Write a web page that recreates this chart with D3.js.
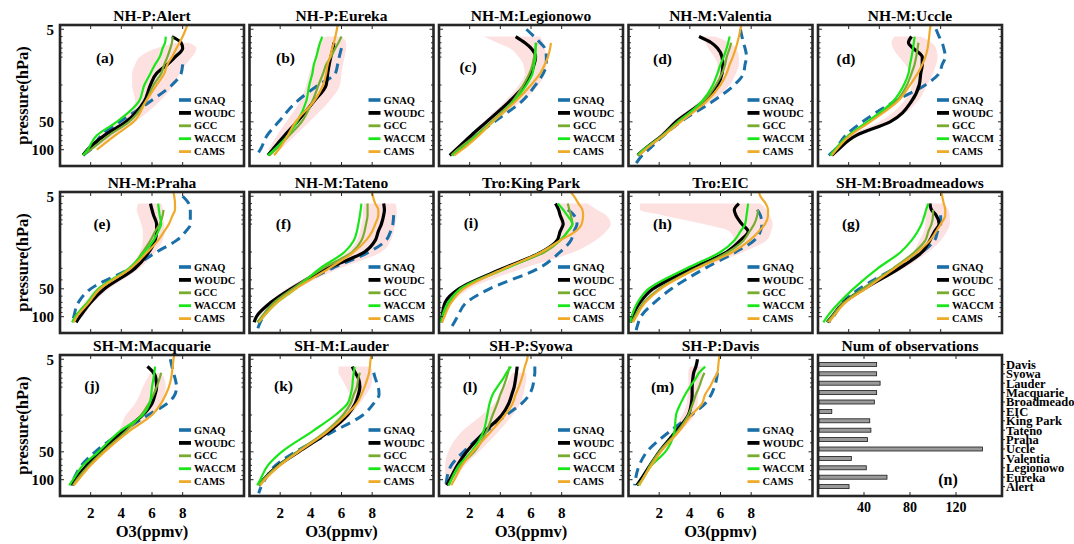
<!DOCTYPE html>
<html>
<head>
<meta charset="utf-8" />
<style>
*{margin:0;padding:0;}
body{background:#fff;}
svg text{font-family:"Liberation Serif","DejaVu Serif","Times New Roman",serif;font-weight:bold;}
</style>
</head>
<body>
<script src="https://cdn.jsdelivr.net/npm/d3@7"></script>
<script>
// pressure levels (hPa) shared by all profiles
var levels = [4.5, 5, 6, 7, 8, 10, 12, 15, 20, 30, 50, 70, 100, 115, 140];

var stations = ["Alert","Eureka","Legionowo","Valentia","Uccle","Praha","Tateno","King Park","EIC","Broadmeadows","Macquarie","Lauder","Syowa","Davis"];
var titles = ["NH-P:Alert","NH-P:Eureka","NH-M:Legionowo","NH-M:Valentia","NH-M:Uccle","NH-M:Praha","NH-M:Tateno","Tro:King Park","Tro:EIC","SH-M:Broadmeadows","SH-M:Macquarie","SH-M:Lauder","SH-P:Syowa","SH-P:Davis"];
var letters = ["(a)","(b)","(c)","(d)","(d)","(e)","(f)","(i)","(h)","(g)","(j)","(k)","(l)","(m)"];
var seriesNames = ["GNAQ","WOUDC","GCC","WACCM","CAMS"];
var counts = [27, 60, 42, 29, 143, 43, 46, 45, 12, 49, 51, 54, 51, 51];

// O3 (ppmv) per station, one value per level
var gnaq = [
 [null,null,null,null,null,null,8.0,7.9,7.3,5.9,3.9,2.7,2.0,1.5,null],
 [null,null,null,null,6.0,5.85,5.75,5.6,4.5,3.1,1.9,1.15,0.7,0.45,null],
 [null,5.7,6.2,6.6,6.9,7.0,7.0,6.8,6.3,5.4,3.6,2.4,1.3,0.9,null],
 [null,7.3,7.4,7.5,7.6,7.7,7.6,7.5,6.9,5.5,3.4,2.3,1.3,0.9,0.5],
 [null,7.7,7.9,8.1,8.2,8.3,8.1,7.9,7.0,5.0,2.9,1.8,1.1,0.7,null],
 [null,8.0,8.4,8.5,8.5,8.5,8.2,7.6,6.3,4.6,2.0,1.2,0.9,0.8,null],
 [null,null,null,null,9.4,9.35,9.2,8.9,7.8,5.4,2.8,1.6,0.9,0.7,0.5],
 [null,null,null,8.4,8.8,9.0,8.8,8.6,7.9,6.5,3.3,1.8,1.2,1.0,0.7],
 [null,null,null,8.4,8.6,8.7,8.6,8.2,7.0,5.0,2.8,1.7,0.8,0.65,0.5],
 [null,null,null,null,8.0,8.0,7.8,7.6,6.8,5.0,2.7,1.6,1.0,0.7,null],
 [null,7.2,7.3,7.4,7.5,7.6,7.5,7.0,5.75,4.1,2.3,1.4,0.87,0.7,null],
 [null,null,null,8.1,8.2,8.4,8.45,8.1,7.4,5.5,3.0,1.7,1.0,0.8,0.6],
 [null,null,6.25,6.25,6.2,6.1,5.9,5.4,4.4,3.1,1.6,0.8,0.5,0.45,null],
 [null,null,null,5.8,5.75,5.6,5.4,5.0,4.1,2.7,1.2,0.7,0.45,0.4,null]
];
var woudc = [
 [null,null,7.3,7.9,8.0,7.5,7.0,6.3,5.9,5.5,4.3,2.9,1.8,1.5,null],
 [null,null,null,5.5,5.45,5.3,5.2,5.1,5.0,4.2,3.1,2.3,1.5,1.2,null],
 [null,null,5.0,5.6,6.0,6.3,6.2,6.0,5.6,4.6,3.1,2.1,1.1,0.7,null],
 [null,null,4.6,5.4,5.8,6.1,6.15,6.1,5.8,4.9,3.1,2.2,1.0,0.6,null],
 [null,null,6.1,5.9,6.2,6.8,6.8,6.7,6.6,6.1,4.7,2.5,1.3,0.9,null],
 [null,null,5.9,6.0,6.1,6.3,6.3,6.2,5.8,4.9,2.9,2.0,1.3,1.05,null],
 [null,null,8.75,8.8,8.75,8.6,8.4,8.2,7.5,5.1,2.7,1.4,0.45,0.3,null],
 [null,null,7.6,7.8,7.9,8.1,7.9,7.7,6.7,4.2,1.3,0.4,0.2,0.15,null],
 [null,null,7.2,6.9,7.0,7.4,7.8,7.3,6.4,4.2,1.6,0.75,0.25,0.1,null],
 [null,null,7.3,7.4,7.7,7.9,7.6,7.3,6.8,5.3,3.0,1.7,0.9,0.6,null],
 [null,null,5.7,6.1,6.25,6.3,6.2,6.0,5.4,4.1,2.6,1.75,1.0,0.8,null],
 [null,null,6.7,6.9,7.1,7.2,7.1,6.9,6.4,5.2,3.2,1.9,0.9,0.6,null],
 [null,null,5.1,5.05,5.0,4.9,4.75,4.55,4.1,3.0,1.8,1.2,0.7,0.5,null],
 [null,4.5,4.4,4.25,4.2,4.15,4.15,4.1,3.9,3.1,2.0,1.4,0.8,0.55,null]
];
var gcc = [
 [null,null,7.35,7.3,7.2,7.0,6.8,6.6,6.1,5.6,4.5,3.2,2.0,1.5,null],
 [null,null,6.0,5.8,5.6,5.3,5.0,4.8,4.5,4.1,3.4,2.6,1.7,1.3,null],
 [null,null,null,6.35,6.3,6.2,6.1,5.9,5.5,4.8,3.4,2.4,1.2,0.8,null],
 [null,null,null,6.7,6.6,6.4,6.3,6.1,5.7,4.9,3.2,2.2,1.0,0.6,null],
 [null,null,null,6.55,6.5,6.4,6.3,6.1,5.8,5.1,3.3,2.0,1.1,0.8,null],
 [null,null,null,6.75,6.7,6.5,6.2,5.9,5.4,4.6,2.6,1.8,1.0,0.8,null],
 [null,null,7.7,7.7,7.7,7.6,7.5,7.3,6.7,4.8,2.8,1.6,0.8,0.5,null],
 [null,null,8.4,8.5,8.6,8.7,8.4,7.9,6.9,4.3,1.4,0.7,0.3,0.15,null],
 [null,null,null,8.45,8.4,8.2,7.9,7.5,6.5,4.4,2.0,1.0,0.4,0.2,null],
 [null,null,null,7.5,7.5,7.4,7.2,7.0,6.3,4.9,2.9,1.7,0.9,0.6,null],
 [null,null,null,6.6,6.5,6.3,6.1,5.8,5.3,4.3,2.8,1.9,1.1,0.85,null],
 [null,null,null,7.2,7.1,7.0,6.8,6.6,6.1,5.0,3.1,1.9,0.9,0.6,null],
 [null,null,4.6,4.5,4.4,4.2,4.0,3.8,3.5,3.1,2.3,1.4,0.8,0.6,null],
 [null,null,null,4.95,4.8,4.6,4.4,4.2,3.9,3.2,2.0,1.4,0.9,0.6,null]
];
var waccm = [
 [null,null,6.9,6.85,6.7,6.5,6.2,5.9,5.5,5.15,3.7,2.4,1.8,1.5,null],
 [null,null,4.75,4.6,4.5,4.35,4.2,4.1,3.9,3.7,3.1,2.5,1.6,1.2,null],
 [null,null,null,6.3,6.3,6.3,6.2,6.1,5.7,4.9,3.5,2.5,1.4,0.9,null],
 [null,null,6.6,6.5,6.4,6.2,6.0,5.8,5.5,4.8,3.3,2.3,1.0,0.6,null],
 [null,null,6.3,6.25,6.2,6.1,6.0,5.9,5.6,4.9,3.2,2.0,1.1,0.8,null],
 [null,null,6.4,6.45,6.5,6.6,6.4,6.1,5.5,4.5,2.5,1.8,1.0,0.8,null],
 [null,null,7.3,7.25,7.2,7.1,7.0,6.8,6.2,4.6,3.0,1.8,0.9,0.6,null],
 [null,null,7.75,8.1,8.35,8.7,8.4,7.9,6.7,4.4,1.4,0.6,0.2,0.1,null],
 [null,null,7.8,7.75,7.7,7.6,7.3,6.9,6.0,3.8,1.3,0.6,0.2,0.1,null],
 [null,null,7.2,7.05,6.95,6.75,6.5,6.1,5.4,3.9,2.3,1.4,0.6,0.35,null],
 [null,null,6.2,6.15,6.1,6.0,5.95,5.85,5.4,3.9,2.5,1.5,0.85,0.6,null],
 [null,null,6.85,6.8,6.75,6.7,6.6,6.4,5.6,4.1,2.1,1.2,0.7,0.5,null],
 [null,null,4.7,4.4,4.2,3.8,3.5,3.3,3.15,2.9,2.1,1.3,0.8,0.65,null],
 [null,null,5.0,4.6,4.4,4.0,3.7,3.4,3.1,3.0,2.4,1.5,0.9,0.7,null]
];
var cams = [
 [8.3,8.2,8.0,7.8,7.6,7.3,7.0,6.8,6.3,5.6,4.8,3.6,2.4,null,null],
 [5.75,5.7,5.6,5.5,5.4,5.25,5.1,5.0,4.8,4.2,3.0,2.5,1.9,1.6,null],
 [null,null,null,7.3,7.25,7.1,6.9,6.6,6.0,5.0,3.5,2.6,1.5,1.0,null],
 [7.35,7.3,7.2,7.1,7.0,6.8,6.6,6.4,6.0,5.1,3.4,2.3,1.1,0.7,null],
 [7.35,7.3,7.25,7.2,7.15,7.0,6.8,6.5,6.0,5.2,3.4,2.1,1.2,0.9,null],
 [7.4,7.45,7.5,7.5,7.35,7.1,6.8,6.4,5.7,4.6,2.6,1.9,1.1,0.9,null],
 [8.0,8.05,8.2,8.4,8.4,8.2,8.0,7.6,6.8,5.2,3.0,1.8,0.9,0.6,null],
 [8.6,8.8,9.1,9.35,9.4,9.3,8.9,7.9,6.7,4.3,1.6,0.8,0.35,0.2,null],
 [8.5,8.6,8.95,9.1,9.1,8.9,8.5,7.9,6.8,4.5,2.1,1.1,0.5,0.3,null],
 [8.05,8.1,8.2,8.3,8.3,8.0,7.7,7.3,6.5,5.0,3.1,1.8,1.0,0.7,null],
 [7.45,7.4,7.35,7.3,7.25,7.1,6.9,6.6,6.0,4.5,2.9,2.0,1.2,0.9,null],
 [7.95,7.9,7.85,7.8,7.7,7.5,7.3,7.0,6.3,5.1,3.2,2.0,1.0,0.7,null],
 [5.8,5.75,5.6,5.5,5.4,5.2,5.0,4.8,4.3,3.4,2.2,1.5,1.0,0.8,null],
 [5.95,5.9,5.85,5.8,5.6,5.3,5.0,4.8,4.1,3.3,2.1,1.5,0.9,0.7,null]
];
// spread of the sondes (shaded band), lower and upper edge
var bandLo = [
 [null,null,null,7.6,6.3,5.2,4.9,4.7,4.7,4.9,3.6,2.6,1.6,null,null],
 [null,null,5.0,4.5,4.4,4.3,4.1,3.9,3.7,3.3,2.4,1.8,1.2,null,null],
 [null,null,2.9,3.8,4.6,5.2,5.5,5.6,5.2,4.3,2.9,2.0,1.0,null,null],
 [null,null,4.6,5.0,5.2,5.6,5.8,5.8,5.5,4.6,2.9,2.0,0.9,null,null],
 [null,null,5.0,4.8,4.9,5.3,5.7,6.0,6.1,5.6,4.0,2.1,1.1,null,null],
 [null,null,5.1,5.0,5.1,5.3,5.4,5.4,5.2,4.4,2.4,1.6,1.0,null,null],
 [null,null,7.5,7.4,7.4,7.3,7.2,7.0,6.4,4.7,2.4,1.3,0.4,null,null],
 [null,null,7.8,7.8,7.8,7.9,7.9,7.6,6.7,4.4,1.4,0.6,0.2,null,null],
 [null,null,0.75,0.75,2.2,4.9,6.6,6.9,6.3,4.0,1.4,0.6,0.1,null,null],
 [null,null,7.0,7.0,7.0,7.0,6.9,6.6,6.2,4.8,2.7,1.5,0.8,null,null],
 [null,null,null,5.9,5.7,5.4,5.2,4.9,4.3,3.8,2.4,1.6,0.9,null,null],
 [null,null,5.8,5.8,6.0,6.3,6.5,6.4,5.9,4.8,3.0,1.8,0.8,null,null],
 [null,null,null,4.8,4.6,4.3,4.0,3.6,2.8,1.5,0.6,0.4,0.4,null,null],
 [null,null,4.0,3.9,3.9,3.9,3.85,3.8,3.5,2.9,1.9,null,null,null,null]
];
var bandHi = [
 [null,null,null,8.4,8.9,8.6,8.2,7.8,7.4,6.5,4.9,3.6,2.1,null,null],
 [null,null,6.0,6.3,6.3,6.2,6.1,6.0,5.9,5.2,3.9,3.0,2.0,null,null],
 [null,null,6.6,6.8,6.9,7.0,7.0,6.9,6.5,5.4,3.6,2.6,1.4,null,null],
 [null,null,5.6,6.6,7.0,7.2,7.2,7.0,6.6,5.4,3.4,2.4,1.2,null,null],
 [null,null,6.7,7.4,7.7,7.8,7.7,7.5,7.1,6.5,4.8,2.6,1.5,null,null],
 [null,null,6.6,6.7,6.7,6.8,6.8,6.7,6.2,5.2,3.2,2.2,1.5,null,null],
 [null,null,9.5,9.6,9.6,9.5,9.4,9.2,8.6,5.9,3.1,1.8,0.8,null,null],
 [null,null,9.7,10.3,10.9,11.2,10.9,10.2,8.8,5.5,2.0,0.9,0.4,null,null],
 [null,null,8.6,9.0,9.2,9.4,9.3,9.0,7.5,4.8,1.9,0.9,0.4,null,null],
 [null,null,8.2,8.5,8.6,8.6,8.4,8.0,7.2,5.6,3.2,1.9,1.1,null,null],
 [null,null,null,6.6,6.8,6.9,6.8,6.6,6.0,4.6,2.9,2.0,1.2,null,null],
 [null,null,7.9,8.0,8.0,7.9,7.6,7.2,6.6,5.4,3.4,2.1,1.1,null,null],
 [null,null,null,5.7,5.7,5.6,5.5,5.3,4.8,3.9,2.6,1.7,1.1,null,null],
 [null,null,4.8,4.8,4.7,4.6,4.55,4.5,4.3,3.4,2.2,null,null,null,null]
];

var xTicks = [2, 4, 6, 8];
var yTicks = [5, 50, 100];
var yMinor = [6, 7, 8, 9, 10, 20, 30, 40, 60, 70, 80, 90];
var barTicks = [40, 80, 120];

// ---- layout
var W = 1074, H = 544;
var colLeft = [60, 249.5, 439, 628.5, 818], rowTop = [25, 192, 355];
var pw = 184, ph = 141;
var letterDx = [45,36,29,34,28, 42,34,32,34,33, 32,34,31,34];
var letterDy = [38,38,47,39,39, 37,37,36,37,37, 36,36,37,37];
var FONT = "'Liberation Serif','DejaVu Serif','Times New Roman',serif";

var styles = [
	{color:"#1b6fa8", width:3, dash:"10,6"},
	{color:"#000000", width:3.2, dash:null},
	{color:"#77ac30", width:2.2, dash:null},
	{color:"#19e619", width:2.2, dash:null},
	{color:"#f0aa2a", width:2.2, dash:null}
];
var allSeries = [gnaq, woudc, gcc, waccm, cams];

var svg = d3.select("body").append("svg").attr("width", W).attr("height", H)
	.attr("font-family", FONT).attr("font-weight", "bold");

var x = d3.scaleLinear().domain([0, 12]).range([0, pw]);
var y = d3.scaleLog().domain([4.5, 150]).range([0, ph]);

var line = d3.line()
	.defined(function(d){ return d[1] !== null; })
	.x(function(d){ return x(d[1]); })
	.y(function(d){ return y(d[0]); })
	.curve(d3.curveMonotoneY);

var band = d3.area()
	.defined(function(d){ return d[1] !== null && d[2] !== null; })
	.y(function(d){ return y(d[0]); })
	.x0(function(d){ return x(d[1]); })
	.x1(function(d){ return x(d[2]); })
	.curve(d3.curveMonotoneY);

function label(g, xx, yy, size, str, anchor){
	return g.append("text").attr("x", xx).attr("y", yy)
		.attr("font-family", FONT).attr("font-weight", "bold")
		.attr("font-size", size).attr("text-anchor", anchor || "middle").text(str);
}

function frame(g, w, h){
	g.append("rect").attr("width", w).attr("height", h)
		.attr("fill", "none").attr("stroke", "#262626").attr("stroke-width", 2.6);
}

stations.forEach(function(name, i){
	var row = Math.floor(i / 5), col = i % 5;
	var L = colLeft[col], T = rowTop[row];
	var g = svg.append("g").attr("transform", "translate(" + L + "," + T + ")");

	g.append("clipPath").attr("id", "clip" + i)
		.append("rect").attr("width", pw).attr("height", ph);
	var plot = g.append("g").attr("clip-path", "url(#clip" + i + ")");

	var bandData = levels.map(function(p, k){ return [p, bandLo[i][k], bandHi[i][k]]; });
	plot.append("path").attr("d", band(bandData))
		.attr("fill", "#fde1e1").attr("stroke", "none");

	allSeries.forEach(function(s, j){
		var data = levels.map(function(p, k){ return [p, s[i][k]]; });
		plot.append("path").attr("d", line(data))
			.attr("fill", "none")
			.attr("stroke", styles[j].color)
			.attr("stroke-width", styles[j].width)
			.attr("stroke-dasharray", styles[j].dash)
			.attr("stroke-linejoin", "round");
	});

	// ticks (inward, both sides)
	var tk = g.append("g").attr("stroke", "#262626").attr("stroke-width", 1);
	xTicks.forEach(function(t){
		tk.append("line").attr("x1", x(t)).attr("x2", x(t)).attr("y1", ph).attr("y2", ph - 4);
		tk.append("line").attr("x1", x(t)).attr("x2", x(t)).attr("y1", 0).attr("y2", 4);
	});
	yTicks.concat(yMinor).forEach(function(t){
		var len = yTicks.indexOf(t) >= 0 ? 4 : 2.5;
		tk.append("line").attr("x1", 0).attr("x2", len).attr("y1", y(t)).attr("y2", y(t));
		tk.append("line").attr("x1", pw).attr("x2", pw - len).attr("y1", y(t)).attr("y2", y(t));
	});

	frame(g, pw, ph);

	label(g, pw / 2, -4.5, 15.5, titles[i]);
	label(g, letterDx[i], letterDy[i], 15.5, letters[i]);

	// legend
	var lg = g.append("g").attr("transform", "translate(119,75)");
	seriesNames.forEach(function(n, j){
		var yy = j * 12.9;
		lg.append("line").attr("x1", 0).attr("x2", 12).attr("y1", yy).attr("y2", yy)
			.attr("stroke", styles[j].color).attr("stroke-width", styles[j].width + 0.6);
		label(lg, 15, yy, 10.5, n, "start").attr("dy", "0.35em");
	});

	if (col === 0) {
		yTicks.forEach(function(t){
			label(g, -6, y(t), 15, t, "end").attr("dy", "0.35em");
		});
		label(g, 0, 0, 16.5, "pressure(hPa)")
			.attr("x", null).attr("y", null)
			.attr("transform", "translate(" + (22 - L) + "," + (ph / 2) + ") rotate(-90)")
			.attr("dy", "0.35em");
	}
	if (row === 2) {
		xTicks.forEach(function(t){
			label(g, x(t), ph + 22, 15, t);
		});
		label(g, pw / 2, ph + 41, 16.5, "O3(ppmv)");
	}
});

// ---- (n) number of observations
(function(){
	var L = colLeft[4], T = rowTop[2];
	var g = svg.append("g").attr("transform", "translate(" + L + "," + T + ")");
	var bx = d3.scaleLinear().domain([0, 160]).range([0, pw]);
	var by = d3.scaleLinear().domain([0, 15]).range([ph, 0]);
	var bh = 4;

	g.selectAll("rect.bar").data(counts).enter().append("rect")
		.attr("class", "bar")
		.attr("x", bx(0) + 1)
		.attr("y", function(d, i){ return by(i + 1) - bh / 2; })
		.attr("width", function(d){ return bx(d) - bx(0) - 1; })
		.attr("height", bh)
		.attr("fill", "#9a9a9a").attr("stroke", "#1a1a1a").attr("stroke-width", 0.8);

	var tk = g.append("g").attr("stroke", "#262626").attr("stroke-width", 1);
	barTicks.forEach(function(t){
		tk.append("line").attr("x1", bx(t)).attr("x2", bx(t)).attr("y1", ph).attr("y2", ph - 4);
		tk.append("line").attr("x1", bx(t)).attr("x2", bx(t)).attr("y1", 0).attr("y2", 4);
		label(g, bx(t), ph + 16, 14, t);
	});
	stations.forEach(function(s, i){
		tk.append("line").attr("x1", pw).attr("x2", pw + 3).attr("y1", by(i + 1)).attr("y2", by(i + 1));
		label(g, pw + 4, by(i + 1), 12.5, s, "start").attr("dy", "0.35em");
	});
	frame(g, pw, ph);
	label(g, pw / 2, -4.5, 15.5, "Num of observations");
	label(g, 130, 130, 16, "(n)");
})();
</script>
</body>
</html>
